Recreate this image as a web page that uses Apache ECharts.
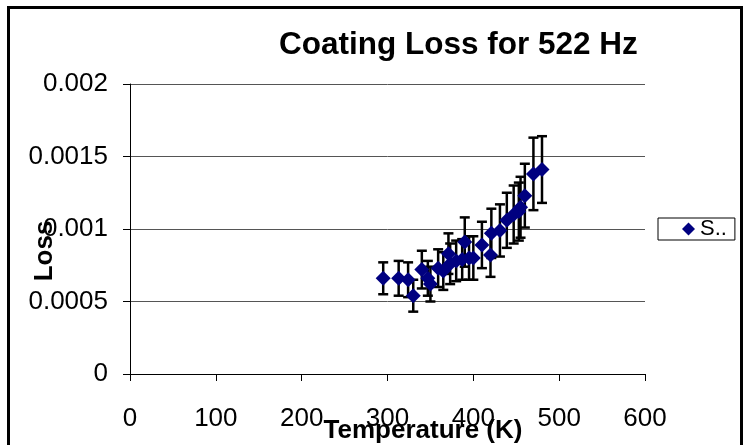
<!DOCTYPE html>
<html>
<head>
<meta charset="utf-8">
<script src="https://cdn.jsdelivr.net/npm/echarts@6/dist/echarts.min.js"></script>
<style>html,body{margin:0;padding:0;background:#fff}#c{width:750px;height:445px}</style>
</head>
<body>
<div id="c"></div>
<script>
const temps  = [295, 313, 324, 330, 340, 347, 350, 359, 365, 371, 373, 380, 387, 390, 395, 400, 410, 420, 421, 431, 439, 447, 453, 455, 460, 470, 480];
const losses = [0.00066, 0.00066, 0.00065, 0.00054, 0.00072, 0.00066, 0.00062, 0.00073, 0.00071, 0.00083, 0.00076, 0.00078, 0.00079, 0.00091, 0.00080, 0.00080, 0.00089, 0.00082, 0.00097, 0.00099, 0.00106, 0.00110, 0.00112, 0.00115, 0.00123, 0.00138, 0.00141];
const errors = [0.00011, 0.00012, 0.00012, 0.00011, 0.00013, 0.00012, 0.00012, 0.00013, 0.00013, 0.00014, 0.00014, 0.00014, 0.00014, 0.00017, 0.00015, 0.00015, 0.00016, 0.00015, 0.00017, 0.00018, 0.00019, 0.00020, 0.00020, 0.00021, 0.00022, 0.00025, 0.00023];
const xTicks = [0, 100, 200, 300, 400, 500, 600];
const yTicks = ['0', '0.0005', '0.001', '0.0015', '0.002'];
const seriesName = 'S..';
const xTitle = 'Temperature (K)';
const yTitle = 'Loss';

const pts = temps.map((t, i) => [t, losses[i]]);
const errData = temps.map((t, i) => [t, losses[i] - errors[i], losses[i] + errors[i]]);

const chart = echarts.init(document.getElementById('c'));
const font = 'Liberation Sans, Arial, sans-serif';
chart.setOption({
  animation: false,
  backgroundColor: '#fff',
  title: {
    text: 'Coating Loss for 522 Hz',
    left: 274, top: 24,
    textStyle: {fontFamily: font, fontWeight: 'bold', fontSize: 31.5, color: '#000'}
  },
  grid: {left: 130, right: 105, top: 84, bottom: 71, containLabel: false, outerBoundsMode: 'none'},
  legend: {
    orient: 'vertical', left: 658, top: 218,
    borderColor: '#000', borderWidth: 1, padding: [0, 8, 0, 24],
    itemWidth: 13, itemHeight: 13, itemGap: 4,
    data: [{name: seriesName, icon: 'diamond'}],
    textStyle: {fontFamily: font, fontSize: 22, color: '#000'}
  },
  xAxis: {
    type: 'value', min: 0, max: 600, interval: 100,
    axisLine: {lineStyle: {color: '#000', width: 1}},
    axisTick: {show: true, length: 7, inside: false, lineStyle: {color: '#000'}},
    axisLabel: {margin: 32, fontFamily: font, fontSize: 26, color: '#000',
      formatter: v => String(xTicks[xTicks.indexOf(v)] ?? v)},
    splitLine: {show: false}
  },
  yAxis: {
    type: 'value', min: 0, max: 0.002, interval: 0.0005,
    axisLine: {show: true, lineStyle: {color: '#000', width: 1}},
    axisTick: {show: true, length: 7, inside: false, lineStyle: {color: '#000'}},
    axisLabel: {margin: 22, fontFamily: font, fontSize: 26, color: '#000',
      formatter: v => yTicks[Math.round(v / 0.0005)] ?? String(v)},
    splitLine: {show: true, lineStyle: {color: '#555', width: 1}}
  },
  graphic: [{
    type: 'rect', silent: true, z: 100,
    shape: {x: 8.5, y: 7.5, width: 733, height: 450},
    style: {fill: 'none', stroke: '#000', lineWidth: 3}
  }, {
    type: 'text', z: 50, x: 45, y: 251, rotation: Math.PI / 2,
    style: {text: yTitle, fill: '#000', font: 'bold 26px ' + font, align: 'center', verticalAlign: 'middle'}
  }, {
    type: 'text', z: 50, x: 423, y: 431,
    style: {text: xTitle, fill: '#000', font: 'bold 26px ' + font, align: 'center', verticalAlign: 'middle'}
  }],
  series: [{
    type: 'custom', name: 'err', data: errData, z: 2,
    encode: {x: 0, y: [1, 2]},
    renderItem: (params, api) => {
      const x = api.value(0);
      const lo = api.coord([x, api.value(1)]);
      const hi = api.coord([x, api.value(2)]);
      const w = 5;
      const st = {stroke: '#000', lineWidth: 2.5};
      return {type: 'group', children: [
        {type: 'line', shape: {x1: lo[0], y1: lo[1], x2: hi[0], y2: hi[1]}, style: st},
        {type: 'line', shape: {x1: lo[0] - w, y1: lo[1], x2: lo[0] + w, y2: lo[1]}, style: st},
        {type: 'line', shape: {x1: hi[0] - w, y1: hi[1], x2: hi[0] + w, y2: hi[1]}, style: st}
      ]};
    }
  }, {
    type: 'scatter', name: seriesName, data: pts, z: 3,
    symbol: 'diamond', symbolSize: 15,
    itemStyle: {color: '#000080', opacity: 1}
  }]
});
</script>
</body>
</html>
